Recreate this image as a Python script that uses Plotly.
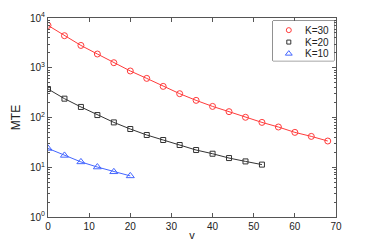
import plotly.graph_objects as go

v_k30 = [0, 4, 8, 12, 16, 20, 24, 28, 32, 36, 40, 44, 48, 52, 56, 60, 64, 68]
mte_k30 = [7100, 4410, 2810, 1890, 1264, 861, 611, 422, 301, 221, 167, 131, 101, 79.7, 64.4, 50.2, 41.7, 33.7]
v_k20 = [0, 4, 8, 12, 16, 20, 24, 28, 32, 36, 40, 44, 48, 52]
mte_k20 = [374, 239, 163, 112, 79.7, 58.7, 44.5, 35.3, 28.0, 22.2, 18.7, 15.3, 13.1, 11.3]
v_k10 = [0, 4, 8, 12, 16, 20]
mte_k10 = [23.9, 17.3, 12.8, 10.1, 8.1, 6.7]
legend_labels = ["K=30", "K=20", "K=10"]

colors = ["#ff3b3b", "#333333", "#4466ff"]
symbols = ["circle-open", "square-open", "triangle-up-open"]
sizes = [6, 5, 7]
data = [(v_k30, mte_k30), (v_k20, mte_k20), (v_k10, mte_k10)]

y_tickvals = [1, 10, 100, 1000, 10000]
y_ticktext = ["10<sup>0</sup>", "10<sup>1</sup>", "10<sup>2</sup>", "10<sup>3</sup>", "10<sup>4</sup>"]
x_tickvals = [0, 10, 20, 30, 40, 50, 60, 70]
minor_vals = [m * 10 ** d for d in range(4) for m in range(2, 10)]

fig = go.Figure()
for (xs, ys), name, col, sym, sz in zip(data, legend_labels, colors, symbols, sizes):
    fig.add_trace(go.Scatter(x=xs, y=ys, mode="lines+markers", name=name, showlegend=False,
                             line=dict(color=col, width=1),
                             marker=dict(symbol=sym, size=sz, color=col, line=dict(width=1, color=col))))

# manual legend on an overlay axis (compact rows like the original)
row_y = [0.77, 0.47, 0.18]
for i, (name, col, sym, sz) in enumerate(zip(legend_labels, colors, symbols, sizes)):
    fig.add_trace(go.Scatter(x=[0.26], y=[row_y[i]], xaxis="x2", yaxis="y2", mode="markers",
                             showlegend=False, hoverinfo="skip",
                             marker=dict(symbol=sym, size=sz - 1, color=col, line=dict(width=1, color=col))))
    fig.add_annotation(x=0.5, y=row_y[i], xref="x2", yref="y2", text=name, showarrow=False,
                       xanchor="left", yanchor="middle", font=dict(size=10, color="#222222"))
fig.add_shape(type="rect", xref="x2 domain", yref="y2 domain", x0=0, x1=1, y0=0, y1=1,
              line=dict(color="#333333", width=1), fillcolor="white", layer="below")

axis_common = dict(showgrid=False, zeroline=False, showline=True, linecolor="#555555", linewidth=1,
                   mirror="allticks", ticks="inside", ticklen=4, tickcolor="#555555", automargin=False,
                   tickfont=dict(family="Liberation Sans, Arial, sans-serif", size=10, color="#222222"))

fig.update_layout(
    width=371, height=245,
    margin=dict(l=48, r=35, t=18, b=28),
    paper_bgcolor="white", plot_bgcolor="white",
    font=dict(family="Liberation Sans, Arial, sans-serif", color="#222222"),
    xaxis=dict(range=[0, 70], tickvals=x_tickvals, ticktext=[str(t) for t in x_tickvals],
               title=dict(text="v", font=dict(size=11), standoff=0), **axis_common),
    yaxis=dict(type="log", range=[0, 4], tickvals=y_tickvals, ticktext=y_ticktext,
               minor=dict(tickvals=minor_vals, ticks="inside", ticklen=2, tickcolor="#555555"),
               title=dict(text="MTE", font=dict(size=12), standoff=6), **axis_common),
    xaxis2=dict(domain=[0.781, 0.993], range=[0, 1], visible=False, anchor="y2", fixedrange=True),
    yaxis2=dict(domain=[0.785, 0.985], range=[0, 1], visible=False, anchor="x2", fixedrange=True),
    showlegend=False,
)

fig.write_html("out.html", config={"displayModeBar": False},
               post_script="document.body.style.margin='0';")
